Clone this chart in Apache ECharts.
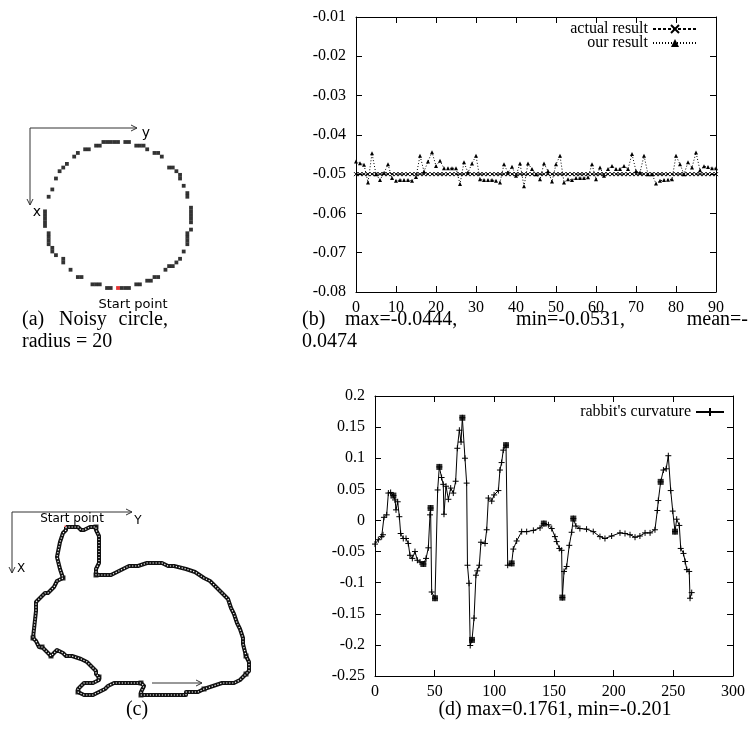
<!DOCTYPE html>
<html>
<head>
<meta charset="utf-8">
<script src="https://cdn.jsdelivr.net/npm/echarts/dist/echarts.min.js"></script>
<style>
  html, body { margin: 0; padding: 0; background: #fff; }
  #main { width: 749px; height: 737px; }
</style>
</head>
<body>
<div id="main"></div>
<script>
// (a) noisy digital circle, radius 20 : [col, row] pixels
var circlePixels = [
  [-4,-20],[-3,-20],[-2,-20],[-1,-20],[0,-20],[2,-20],[3,-20],
  [-6,-19],[-5,-19],[5,-19],[6,-19],[7,-19],
  [-9,-18],[-8,-18],[8,-18],
  [-11,-17],[10,-17],[11,-17],
  [-12,-16],[12,-16],
  [-14,-14],
  [-15,-13],[14,-13],[15,-13],
  [-16,-12],[16,-12],
  [17,-11],
  [-17,-10],[17,-10],
  [18,-8],
  [-18,-7],
  [19,-6],
  [-19,-5],[19,-5],
  [20,-2],
  [-20,-1],[20,-1],
  [-20,0],[20,0],
  [-20,1],[20,1],
  [-20,2],[20,2],
  [-20,3],
  [20,4],
  [-19,5],[19,5],
  [-19,6],[19,6],
  [-19,7],[19,7],
  [-19,8],[19,8],
  [-18,9],
  [-18,10],[18,10],
  [-17,11],
  [-15,12],[17,12],
  [-15,13],[16,13],
  [14,14],[15,14],
  [-13,15],[13,15],
  [-11,17],[-10,17],[10,17],[11,17],
  [8,18],[9,18],
  [-7,19],[-6,19],[-5,19],[5,19],[6,19],
  [-3,20],[-2,20],[1,20],[2,20],[3,20]
];
var circleStart = [0, 20];

// (b) curvature of the noisy circle
var actualResult = [
  -0.05,-0.05,-0.05,-0.05,-0.05,-0.05,-0.05,-0.05,-0.05,-0.05,
  -0.05,-0.05,-0.05,-0.05,-0.05,-0.05,-0.05,-0.05,-0.05,-0.05,
  -0.05,-0.05,-0.05,-0.05,-0.05,-0.05,-0.05,-0.05,-0.05,-0.05,
  -0.05,-0.05,-0.05,-0.05,-0.05,-0.05,-0.05,-0.05,-0.05,-0.05,
  -0.05,-0.05,-0.05,-0.05,-0.05,-0.05,-0.05,-0.05,-0.05,-0.05,
  -0.05,-0.05,-0.05,-0.05,-0.05,-0.05,-0.05,-0.05,-0.05,-0.05,
  -0.05,-0.05,-0.05,-0.05,-0.05,-0.05,-0.05,-0.05,-0.05,-0.05,
  -0.05,-0.05,-0.05,-0.05,-0.05,-0.05,-0.05,-0.05,-0.05,-0.05,
  -0.05,-0.05,-0.05,-0.05,-0.05,-0.05,-0.05,-0.05,-0.05,-0.05,
  -0.05
];
var ourResult = [
  -0.0468,-0.0472,-0.0476,-0.0521,-0.0447,-0.0500,-0.0515,-0.0497,-0.0475,-0.0510,
  -0.0517,-0.0515,-0.0515,-0.0515,-0.0517,-0.0507,-0.0453,-0.0493,-0.0468,-0.0444,
  -0.0479,-0.0466,-0.0485,-0.0485,-0.0485,-0.0485,-0.0525,-0.0470,-0.0496,-0.0473,
  -0.0453,-0.0513,-0.0515,-0.0515,-0.0515,-0.0517,-0.0521,-0.0475,-0.0496,-0.0481,
  -0.0504,-0.0473,-0.0531,-0.0473,-0.0487,-0.0500,-0.0513,-0.0473,-0.0492,-0.0519,
  -0.0475,-0.0453,-0.0521,-0.0513,-0.0515,-0.0510,-0.0510,-0.0510,-0.0508,-0.0475,
  -0.0513,-0.0483,-0.0504,-0.0487,-0.0479,-0.0487,-0.0487,-0.0479,-0.0487,-0.0449,
  -0.0492,-0.0496,-0.0453,-0.0500,-0.0500,-0.0524,-0.0517,-0.0515,-0.0514,-0.0513,
  -0.0453,-0.0475,-0.0500,-0.0470,-0.0483,-0.0445,-0.0490,-0.0480,-0.0482,-0.0485,
  -0.0485
];

// (c) rabbit contour : [col, row] pixels, starting at the top of the ear
var rabbitContour = [
  [18,5],[18,6],[17,7],[16,10],[15,15],[16,19],[17,22],[15,23],[14,25],[12,27],
  [11,27],[9,29],[8,30],[8,33],[7,42],[8,43],[9,45],[10,45],[13,48],[14,47],
  [15,46],[17,47],[18,48],[20,48],[23,49],[25,50],[27,52],[28,53],[28,54],[29,55],
  [29,56],[27,57],[24,57],[23,58],[22,59],[22,60],[24,61],[26,61],[27,61],[29,60],
  [31,59],[32,58],[34,57],[36,57],[39,57],[43,57],[44,58],[43,60],[43,61],[46,61],
  [52,61],[58,61],[58,60],[62,60],[64,59],[67,58],[70,57],[74,57],[76,56],[78,54],
  [79,53],[79,50],[78,48],[77,44],[77,42],[76,39],[75,37],[74,34],[73,32],[72,29],
  [70,27],[68,25],[66,23],[64,22],[61,20],[58,19],[54,18],[52,18],[50,17],[48,17],
  [47,17],[45,17],[42,18],[39,18],[37,19],[35,20],[33,21],[30,21],[28,21],[28,19],
  [29,17],[29,15],[29,13],[29,10],[29,8],[28,6],[28,5],[26,5],[24,6],[23,6],
  [22,5],[19,5]
];
var rabbitCorners = [6, 14, 17, 18, 29, 35, 45, 48, 54, 59, 62, 88, 96];

// (d) rabbit's curvature : [contour index, curvature]
var curvature = [
  [0,-0.038],[2.8,-0.031],[5.6,-0.026],[6.7,-0.023],[7.5,0.005],[9.8,0.009],[11.2,0.044],[13.1,0.045],
  [15.4,0.040],[16.8,0.033],[17.6,0.017],[19,0.030],[20.4,0.006],[21.5,-0.021],[23.7,-0.029],[26,-0.029],
  [27.9,-0.037],[29.3,-0.056],[31.3,-0.061],[33.5,-0.050],[35.5,-0.064],[37.7,-0.067],[40.5,-0.070],
  [42.8,-0.061],[44.7,-0.044],[46.1,0.009],[46.6,0.020],[47.5,-0.115],[50.3,-0.125],[52.5,0.049],
  [53.9,0.086],[55.8,0.069],[57.2,0.058],[57.8,0.010],[59.5,0.055],[61.5,0.034],[63.4,0.052],
  [65.6,0.044],[67.6,0.063],[69,0.116],[70.7,0.145],[72.1,0.126],[73.2,0.165],[75.4,0.100],
  [76.8,0.060],[77.5,-0.072],[78.8,-0.101],[79.8,-0.201],[81.3,-0.192],[83,-0.157],[84.6,-0.088],
  [85.7,-0.081],[87.4,-0.072],[88.8,-0.035],[92.2,-0.037],[93.6,-0.015],[95,0.036],[97.8,0.031],
  [99.8,0.041],[103.4,0.048],[104.7,0.081],[106.1,0.093],[107.5,0.113],[109.8,0.121],[111.2,-0.072],
  [114.5,-0.069],[115.9,-0.046],[118.7,-0.033],[122.9,-0.018],[127.1,-0.018],[132.7,-0.016],
  [138.3,-0.012],[141.5,-0.005],[145.3,-0.007],[148.1,-0.013],[150.8,-0.026],[152.2,-0.034],
  [154.5,-0.045],[156.4,-0.048],[157,-0.124],[158.4,-0.082],[160.6,-0.074],[162.8,-0.040],
  [164.8,-0.019],[166.2,0.003],[168.4,-0.009],[171.7,-0.013],[177.3,-0.014],[182.9,-0.018],
  [188.5,-0.026],[192.7,-0.029],[198.3,-0.025],[205.3,-0.020],[209.5,-0.021],[213.7,-0.023],
  [217.9,-0.027],[222,-0.025],[226.3,-0.020],[230.5,-0.020],[234.6,-0.015],[236.6,0.016],
  [237.4,0.032],[239.4,0.062],[241.7,0.081],[244,0.083],[245.8,0.104],[247.8,0.048],[249.5,0.015],
  [251.4,-0.018],[252.8,0.002],[255,-0.008],[256.2,-0.045],[258.5,-0.053],[259.9,-0.066],
  [261.3,-0.079],[263.3,-0.082],[264,-0.125],[265.4,-0.116]
];
var curvatureCorners = [8, 22, 26, 28, 30, 42, 48, 63, 65, 72, 79, 84, 102, 108];

var SERIF = '"Liberation Serif", "Times New Roman", serif';
var SANS = '"DejaVu Sans", sans-serif';
var PLUS = 'path://M0,5L10,5M5,0L5,10';
var CROSS = 'path://M0,0L10,10M10,0L0,10';

var chart = echarts.init(document.getElementById('main'), null, { renderer: 'canvas' });

function fmt(v) { return String(Math.round(v * 100) / 100); }

// framed gnuplot-like axes: ticks inside on all four sides
function frameX(grid, min, max, interval, pos, labels) {
  return {
    type: 'value', gridIndex: grid, position: pos, min: min, max: max, interval: interval,
    axisLine: { show: true, onZero: false, lineStyle: { color: '#000', width: 1 } },
    axisTick: { show: true, inside: true, length: 6, lineStyle: { color: '#000' } },
    axisLabel: { show: labels, margin: 8, color: '#000', fontFamily: SERIF, fontSize: 16, formatter: fmt },
    splitLine: { show: false }
  };
}
function frameY(grid, min, max, interval, pos, labels) {
  return {
    type: 'value', gridIndex: grid, position: pos, min: min, max: max, interval: interval,
    axisLine: { show: true, onZero: false, lineStyle: { color: '#000', width: 1 } },
    axisTick: { show: true, inside: true, length: 6, lineStyle: { color: '#000' } },
    axisLabel: { show: labels, margin: 10, color: '#000', fontFamily: SERIF, fontSize: 16, formatter: fmt },
    splitLine: { show: false }
  };
}
function hiddenAxis(grid, min, max, inverse) {
  return { type: 'value', gridIndex: grid, min: min, max: max, inverse: !!inverse, show: false, splitLine: { show: false } };
}

function line(pts, color) {
  return { type: 'polyline', silent: true, shape: { points: pts }, style: { stroke: color || '#333', lineWidth: 1, fill: null } };
}
function txt(x, y, s, font, align) {
  return { type: 'text', silent: true, x: x, y: y,
    style: { text: s, font: font, fill: '#000', textAlign: align || 'left', textVerticalAlign: 'middle' } };
}

var CAP = '20px ' + SERIF;

var option = {
  backgroundColor: '#fff',
  animation: false,
  grid: [
    { left: 8.5, top: 105.5, width: 219, height: 219 },   // (a)
    { left: 356, top: 17, width: 360, height: 275 },      // (b)
    { left: 12, top: 512, width: 255, height: 195 },      // (c)
    { left: 375, top: 396, width: 358, height: 280 }      // (d)
  ],
  xAxis: [
    hiddenAxis(0, -30, 30),
    frameX(1, 0, 90, 10, 'bottom', true),
    frameX(1, 0, 90, 10, 'top', false),
    hiddenAxis(2, 0, 85),
    frameX(3, 0, 300, 50, 'bottom', true),
    frameX(3, 0, 300, 50, 'top', false)
  ],
  yAxis: [
    hiddenAxis(0, -30, 30, true),
    frameY(1, -0.08, -0.01, 0.01, 'left', true),
    frameY(1, -0.08, -0.01, 0.01, 'right', false),
    hiddenAxis(2, 0, 65, true),
    frameY(3, -0.25, 0.2, 0.05, 'left', true),
    frameY(3, -0.25, 0.2, 0.05, 'right', false)
  ],
  legend: [
    { data: ['actual result'], orient: 'vertical', align: 'right', right: 51, top: 21, padding: 0,
      itemWidth: 44, itemHeight: 10, selectedMode: false,
      textStyle: { fontFamily: SERIF, fontSize: 16, color: '#000' } },
    { data: ['our result'], orient: 'vertical', align: 'right', right: 51, top: 35, padding: 0,
      itemWidth: 44, itemHeight: 10, selectedMode: false,
      textStyle: { fontFamily: SERIF, fontSize: 16, color: '#000' } },
    { data: ["rabbit's curvature"], orient: 'vertical', align: 'right', right: 24, top: 404, padding: 0,
      itemWidth: 28, itemHeight: 10, selectedMode: false,
      textStyle: { fontFamily: SERIF, fontSize: 16, color: '#000' } }
  ],
  series: [
    { type: 'scatter', name: 'circle', xAxisIndex: 0, yAxisIndex: 0, symbol: 'rect', symbolSize: 3.8,
      itemStyle: { color: '#000' }, data: circlePixels, silent: true },
    { type: 'scatter', name: 'circle start', xAxisIndex: 0, yAxisIndex: 0, symbol: 'rect', symbolSize: 3.8,
      itemStyle: { color: '#e00000' }, data: [circleStart], silent: true },

    { type: 'line', name: 'actual result', xAxisIndex: 1, yAxisIndex: 1,
      data: actualResult.map(function (v, i) { return [i, v]; }),
      symbol: CROSS, symbolSize: 4, showAllSymbol: true,
      lineStyle: { color: '#000', width: 1, type: [3, 2] },
      itemStyle: { color: '#000', borderColor: '#000', borderWidth: 1 } },
    { type: 'line', name: 'our result', xAxisIndex: 1, yAxisIndex: 1,
      data: ourResult.map(function (v, i) { return [i, v]; }),
      symbol: 'triangle', symbolSize: 4, showAllSymbol: true,
      lineStyle: { color: '#000', width: 1, type: [1, 2] },
      itemStyle: { color: '#000' } },

    { type: 'line', name: 'rabbit', xAxisIndex: 3, yAxisIndex: 3, silent: true,
      data: rabbitContour.concat([rabbitContour[0]]), symbol: 'none',
      lineStyle: { color: '#111', width: 4, join: 'round' } },
    { type: 'line', name: 'rabbit dots', xAxisIndex: 3, yAxisIndex: 3, silent: true,
      data: rabbitContour.concat([rabbitContour[0]]), symbol: 'none',
      lineStyle: { color: '#fff', width: 1.2, type: [1.2, 1.8] } },
    { type: 'scatter', name: 'rabbit corners', xAxisIndex: 3, yAxisIndex: 3, silent: true,
      symbol: 'rect', symbolSize: 5, itemStyle: { color: '#000' },
      data: rabbitCorners.map(function (i) { return rabbitContour[i]; }) },
    { type: 'scatter', name: 'rabbit start', xAxisIndex: 3, yAxisIndex: 3, silent: true,
      symbol: 'rect', symbolSize: 3, itemStyle: { color: '#e00000' }, data: [rabbitContour[0]] },

    { type: 'line', name: "rabbit's curvature", xAxisIndex: 4, yAxisIndex: 4,
      data: curvature, symbol: PLUS, symbolSize: 6, showAllSymbol: true,
      lineStyle: { color: '#000', width: 1 },
      itemStyle: { color: '#000', borderColor: '#000', borderWidth: 1 } },
    { type: 'scatter', name: 'curvature corners', xAxisIndex: 4, yAxisIndex: 4, silent: true,
      symbol: 'rect', symbolSize: 6, itemStyle: { color: '#000' },
      data: curvatureCorners.map(function (i) { return curvature[i]; }) }
  ],
  graphic: [
    // (a) axes
    line([[30, 128], [137, 128]]), line([[131, 125], [137, 128], [131, 131]]),
    line([[30, 128], [30, 205]]), line([[27, 199], [30, 205], [33, 199]]),
    txt(146, 133, 'y', '14px ' + SANS, 'center'),
    txt(37, 212, 'x', '14px ' + SANS, 'center'),
    txt(133, 305, 'Start point', '13px ' + SANS, 'center'),
    // (c) axes
    line([[12, 512], [132, 512]]), line([[126, 509], [132, 512], [126, 515]]),
    line([[12, 512], [12, 573]]), line([[9, 567], [12, 573], [15, 567]]),
    txt(138, 521, 'Y', '12px ' + SANS, 'center'),
    txt(21, 569, 'X', '12px ' + SANS, 'center'),
    txt(72, 519, 'Start point', '12px ' + SANS, 'center'),
    line([[152, 683], [202, 683]]), line([[196, 680], [202, 683], [196, 686]]),
    // captions
    txt(22, 320, '(a)', CAP), txt(59, 320, 'Noisy', CAP), txt(168, 320, 'circle,', CAP, 'right'),
    txt(22, 342, 'radius = 20', CAP),
    txt(302, 320, '(b)', CAP), txt(345, 320, 'max=-0.0444,', CAP),
    txt(516, 320, 'min=-0.0531,', CAP), txt(748, 320, 'mean=-', CAP, 'right'),
    txt(302, 342, '0.0474', CAP),
    txt(137, 710, '(c)', CAP, 'center'),
    txt(555, 710, '(d) max=0.1761, min=-0.201', CAP, 'center')
  ]
};

chart.setOption(option);
</script>
</body>
</html>
